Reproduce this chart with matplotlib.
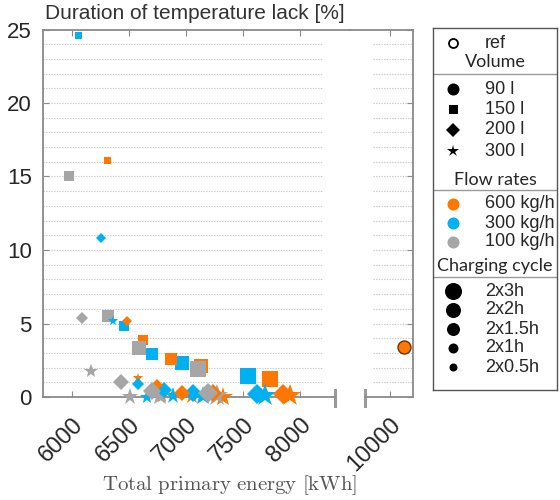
import matplotlib
matplotlib.use('Agg')
import matplotlib.pyplot as plt

plt.rcParams['font.family'] = ['Liberation Sans', 'DejaVu Sans']
plt.rcParams['mathtext.fontset'] = 'cm'

# colours per flow rate, marker size (px) per charging cycle
flow_colors = {'600 kg/h': '#FF7600', '300 kg/h': '#00B0F0', '100 kg/h': '#A6A6A6'}
cycle_px = {'2x0.5h': 7, '2x1h': 9.5, '2x1.5h': 11.5, '2x2h': 13.5, '2x3h': 15.5}

# 150 l (squares)
sq_energy = [6053, 6456, 6702, 6965, 7544,
             6307, 6623, 6868, 7132, 7737,
             5974, 6316, 6588, 7105]
sq_lack = [24.6, 4.8, 2.9, 2.3, 1.4,
           16.1, 3.9, 2.6, 2.1, 1.2,
           15.0, 5.5, 3.3, 1.9]
sq_flow = ['300 kg/h'] * 5 + ['600 kg/h'] * 5 + ['100 kg/h'] * 4
sq_cycle = ['2x0.5h', '2x1h', '2x1.5h', '2x2h', '2x3h',
            '2x0.5h', '2x1h', '2x1.5h', '2x2h', '2x3h',
            '2x1h', '2x1.5h', '2x2h', '2x3h']

# 200 l (diamonds)
dm_energy = [6254, 6579, 6807, 7061, 7623,
             6482, 6745, 6965, 7237, 7851,
             6088, 6430, 6702, 7193]
dm_lack = [10.8, 0.9, 0.5, 0.3, 0.2,
           5.2, 0.8, 0.3, 0.3, 0.2,
           5.4, 1.0, 0.4, 0.3]
dm_flow = ['300 kg/h'] * 5 + ['600 kg/h'] * 5 + ['100 kg/h'] * 4
dm_cycle = ['2x0.5h', '2x1h', '2x1.5h', '2x2h', '2x3h',
            '2x0.5h', '2x1h', '2x1.5h', '2x2h', '2x3h',
            '2x1h', '2x1.5h', '2x2h', '2x3h']

# 300 l (stars)
st_energy = [6360, 6660, 6886, 7150, 7693,
             6580, 6790, 7053, 7325, 7912,
             6167, 6509, 6770, 7272]
st_lack = [5.2, 0.0, 0.1, 0.05, 0.05,
           1.3, 0.05, 0.05, 0.0, 0.05,
           1.8, 0.0, 0.1, 0.1]
st_flow = ['300 kg/h'] * 5 + ['600 kg/h'] * 5 + ['100 kg/h'] * 4
st_cycle = ['2x0.5h', '2x1h', '2x1.5h', '2x2h', '2x3h',
            '2x0.5h', '2x1h', '2x1.5h', '2x2h', '2x3h',
            '2x1h', '2x1.5h', '2x2h', '2x3h']

# reference (90 l)
ref_energy = [10120]
ref_lack = [3.4]

volume_labels = ['90 l', '150 l', '200 l', '300 l']
volume_markers = ['o', 's', 'D', '*']
flow_labels = ['600 kg/h', '300 kg/h', '100 kg/h']
cycle_labels = ['2x3h', '2x2h', '2x1.5h', '2x1h', '2x0.5h']

W, H = 560, 500
fig = plt.figure(figsize=(5.6, 5.0), dpi=100)

def fx(px):
    return px / W

def fy(px):
    return 1 - px / H

ax_top, ax_bot = 29.5, 397
ax1 = fig.add_axes([fx(43), fy(ax_bot), fx(350 - 43), (ax_bot - ax_top) / H])
ax2 = fig.add_axes([fx(350), fy(ax_bot), fx(413 - 350), (ax_bot - ax_top) / H])

spine_c = '#8a8a8a'
ms_scale = 72 / 100  # px -> pt

def draw(ax, energy, lack, flow, cycle, marker, size_fac=1.0):
    for e, l, f, c in zip(energy, lack, flow, cycle):
        ax.plot(e, l, marker=marker, color=flow_colors[f], linestyle='none',
                markersize=cycle_px[c] * ms_scale * size_fac, markeredgewidth=0,
                clip_on=False, zorder=3)

draw(ax1, sq_energy, sq_lack, sq_flow, sq_cycle, 's', 1.0)
draw(ax1, st_energy, st_lack, st_flow, st_cycle, '*', 1.5)
draw(ax1, dm_energy, dm_lack, dm_flow, dm_cycle, 'D', 0.95)
ax2.plot(ref_energy, ref_lack, marker='o', color='#FF7600', markeredgecolor='#6b3300',
         markeredgewidth=1.0, markersize=13 * ms_scale, linestyle='none', zorder=3)

ax1.set_xlim(5745, 8439)
ax2.set_xlim(9649, 10202)
for ax in (ax1, ax2):
    ax.set_ylim(0, 25)
    for s in ax.spines.values():
        s.set_color(spine_c)
        s.set_linewidth(1.3)
    ax.tick_params(direction='in', length=4, color=spine_c, labelsize=16,
                   labelcolor='#262626', top=True)

ax1.spines['right'].set_visible(False)
ax2.spines['left'].set_visible(False)
ax1.spines['bottom'].set_bounds(5745, 8307)
ax2.spines['bottom'].set_bounds(9780, 10202)

ax1.set_yticks([0, 5, 10, 15, 20, 25])
ax1.tick_params(axis='y', left=True, right=False, pad=8)
ax2.set_yticks([0, 5, 10, 15, 20, 25])
ax2.tick_params(axis='y', left=False, right=True, labelleft=False)

ax1.set_xticks([6000, 6500, 7000, 7500, 8000])
ax2.set_xticks([10000])
for ax in (ax1, ax2):
    ax.tick_params(axis='x', pad=12, labelsize=17)
    for lab in ax.get_xticklabels():
        lab.set_rotation(45)
        lab.set_rotation_mode('anchor')
        lab.set_ha('right')
        lab.set_va('top')

# dotted horizontal grid, interrupted at the axis break
grid_y = list(range(1, 25))
ax1.hlines(grid_y, 5745, 8193, colors='#c8c8c8', linestyles=(0, (1.2, 1.2)), lw=0.8, zorder=1)
ax2.hlines(grid_y, 9850, 10202, colors='#c8c8c8', linestyles=(0, (1.2, 1.2)), lw=0.8, zorder=1)

# break marks
h = ax_bot - ax_top
for ax, xb in ((ax1, 8307), (ax2, 9780)):
    ax.plot([xb, xb], [-9 / h, 7 / h], transform=ax.get_xaxis_transform(),
            color='#9a9a9a', lw=2.2, clip_on=False)

fig.text(fx(45), fy(4), 'Duration of temperature lack [%]', ha='left', va='top',
         fontsize=15, color='#333333')
fig.text(fx(230), fy(485), r'$\mathrm{Total\ primary\ energy\ [kWh]}$', ha='center',
         va='center', fontsize=15, color='#555555')

# legend panel
lax = fig.add_axes([fx(433), fy(390), fx(557 - 433), (390 - 28) / H])
lax.set_xlim(433, 557)
lax.set_ylim(390, 28)
lax.set_xticks([])
lax.set_yticks([])
for s in lax.spines.values():
    s.set_color('#555555')
    s.set_linewidth(1.0)

mx, tx, hx = 453, 485, 495
txt_kw = dict(fontsize=13, color='#262626', ha='left', va='center')
head_kw = dict(fontsize=13, color='#262626', ha='center', va='center', family='Lato')

lax.plot(mx, 43, marker='o', mfc='white', mec='black', mew=1.3, ms=9 * ms_scale)
lax.text(tx, 43, 'ref', **txt_kw)

lax.text(hx, 62, 'Volume', **head_kw)
lax.plot([433, 557], [74, 74], color='#999999', lw=1)
vol_y = [89, 109, 130, 151]
vol_ms = [12, 9, 10, 13]
for lab, m, y, s in zip(volume_labels, volume_markers, vol_y, vol_ms):
    lax.plot(mx, y, marker=m, color='black', mew=0, ms=s * ms_scale)
    lax.text(tx, y, lab, **txt_kw)

lax.text(hx, 180, 'Flow rates', **head_kw)
lax.plot([433, 557], [190, 190], color='#999999', lw=1)
flow_y = [204, 223, 242]
for lab, y in zip(flow_labels, flow_y):
    lax.plot(mx, y, marker='o', color=flow_colors[lab], mew=0, ms=12 * ms_scale)
    lax.text(tx, y, lab, **txt_kw)

lax.text(hx, 266, 'Charging cycle', **head_kw)
lax.plot([433, 557], [277, 277], color='#999999', lw=1)
cyc_y = [291, 310, 329, 348, 367]
cyc_ms = [17, 15, 13, 10, 8]
for lab, y, s in zip(cycle_labels, cyc_y, cyc_ms):
    lax.plot(mx, y, marker='o', color='black', mew=0, ms=s * ms_scale)
    lax.text(tx, y, lab, **txt_kw)

fig.savefig('out.png', dpi=100)
